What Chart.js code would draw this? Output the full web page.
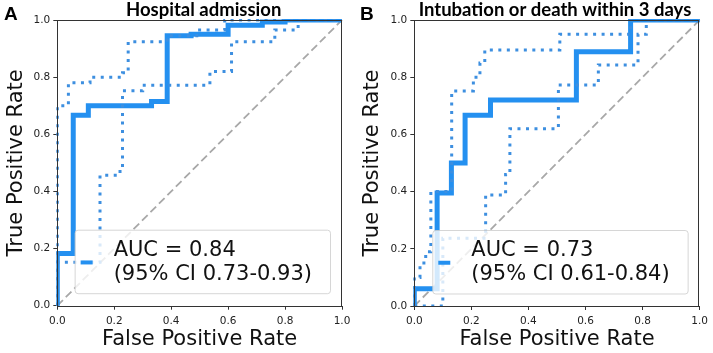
<!DOCTYPE html>
<html>
<head>
<meta charset="utf-8">
<script src="https://cdn.jsdelivr.net/npm/chart.js@4.4.1/dist/chart.umd.min.js"></script>
<style>
  html, body { margin: 0; padding: 0; background: #fff; }
  #wrap { position: relative; width: 713px; height: 353px; }
  canvas { position: absolute; top: 0; }
  #cA { left: 0; }
  #cB { left: 356px; }
</style>
</head>
<body>
<div id="wrap">
  <canvas id="cA" width="356" height="353"></canvas>
  <canvas id="cB" width="357" height="353"></canvas>
</div>
<script>
// Axis ticks (both panels)
const tickValues = [0, 0.2, 0.4, 0.6, 0.8, 1.0];

// Panel A - Hospital admission: ROC and 95% CI bounds
const admFpr   = [0, 0, 0.056, 0.056, 0.109, 0.109, 0.331, 0.331, 0.386, 0.386, 0.47, 0.47, 0.60, 0.60, 0.72, 0.72, 0.80, 0.80, 1];
const admTpr   = [0, 0.183, 0.183, 0.667, 0.667, 0.70, 0.70, 0.715, 0.715, 0.945, 0.945, 0.95, 0.95, 0.982, 0.982, 0.993, 0.993, 1, 1];
const admHiFpr = [0, 0, 0.039, 0.039, 0.115, 0.115, 0.229, 0.229, 0.249, 0.249, 0.386, 0.386, 0.49, 0.49, 0.588, 0.588, 1];
const admHiTpr = [0, 0.70, 0.70, 0.78, 0.78, 0.80, 0.80, 0.815, 0.815, 0.924, 0.924, 0.945, 0.945, 0.965, 0.965, 1, 1];
const admLoFpr = [0, 0, 0.15, 0.15, 0.213, 0.213, 0.229, 0.229, 0.30, 0.30, 0.536, 0.536, 0.612, 0.612, 0.764, 0.764, 0.846, 0.846, 1];
const admLoTpr = [0, 0.152, 0.152, 0.457, 0.457, 0.47, 0.47, 0.752, 0.752, 0.772, 0.772, 0.82, 0.82, 0.924, 0.924, 0.965, 0.965, 1, 1];
const admLegend = ["AUC = 0.84", "(95% CI 0.73-0.93)"];

// Panel B - Intubation or death within 3 days
const intFpr   = [0, 0, 0.08, 0.08, 0.13, 0.13, 0.178, 0.178, 0.267, 0.267, 0.568, 0.568, 0.758, 0.758, 1];
const intTpr   = [0, 0.06, 0.06, 0.395, 0.395, 0.50, 0.50, 0.667, 0.667, 0.72, 0.72, 0.889, 0.889, 1, 1];
const intHiFpr = [0, 0, 0.02, 0.02, 0.04, 0.04, 0.058, 0.058, 0.131, 0.131, 0.207, 0.207, 0.23, 0.23, 0.247, 0.247, 0.51, 0.51, 0.758, 0.758, 1];
const intHiTpr = [0, 0.10, 0.10, 0.15, 0.15, 0.19, 0.19, 0.40, 0.40, 0.752, 0.752, 0.80, 0.80, 0.85, 0.85, 0.895, 0.895, 0.95, 0.95, 1, 1];
const intLoFpr = [0, 0.10, 0.10, 0.25, 0.25, 0.32, 0.32, 0.335, 0.335, 0.505, 0.505, 0.645, 0.645, 0.784, 0.784, 0.813, 0.813, 1];
const intLoTpr = [0, 0, 0.237, 0.237, 0.388, 0.388, 0.46, 0.46, 0.62, 0.62, 0.773, 0.773, 0.843, 0.843, 0.95, 0.95, 1, 1];
const intLegend = ["AUC = 0.73", "(95% CI 0.61-0.84)"];

// chance line
const chanceX = [0, 1];
const chanceY = [0, 1];

const SOLID = "#2490f0";
const DOTTED = "#3d8fe0";
const FONT = "'DejaVu Sans', sans-serif";

function pts(xs, ys) {
    return xs.map((x, i) => ({ x: x, y: ys[i] }));
}

// legend box, frame and panel titles drawn on top of the plot
const panelDecor = {
    id: "panelDecor",
    afterDatasetsDraw(chart, args, opts) {
        const { ctx, chartArea: a } = chart;
        ctx.save();
        ctx.font = "21px " + FONT;
        const textW = Math.max(...opts.legend.map(t => ctx.measureText(t).width));
        const boxW = textW + 57;
        const boxH = 63.5;
        const left = a.right - 12 - boxW;
        const top = a.bottom - 12.5 - boxH;
        ctx.beginPath();
        ctx.roundRect(left + 0.5, top + 0.5, boxW, boxH, 3);
        ctx.fillStyle = "rgba(255,255,255,0.8)";
        ctx.fill();
        ctx.strokeStyle = "rgba(204,204,204,0.8)";
        ctx.lineWidth = 1;
        ctx.stroke();
        // handle
        ctx.beginPath();
        ctx.moveTo(left + 6, top + boxH / 2 + 1);
        ctx.lineTo(left + 18, top + boxH / 2 + 1);
        ctx.strokeStyle = SOLID;
        ctx.lineWidth = 4;
        ctx.stroke();
        ctx.fillStyle = "#111";
        ctx.textBaseline = "alphabetic";
        ctx.textAlign = "left";
        ctx.fillText(opts.legend[0], left + 39, top + 26.4);
        ctx.fillText(opts.legend[1], left + 39, top + 50);
        // frame
        ctx.strokeStyle = "#333";
        ctx.lineWidth = 1;
        ctx.strokeRect(Math.round(a.left) + 0.5, Math.round(a.top) + 0.5,
                       Math.round(a.width) - 1, Math.round(a.height));
        ctx.restore();
    },
    afterDraw(chart, args, opts) {
        const { ctx, chartArea: a } = chart;
        ctx.save();
        ctx.fillStyle = "#000";
        ctx.textBaseline = "alphabetic";
        ctx.textAlign = "center";
        ctx.font = "bold 18.5px Lato, sans-serif";
        ctx.fillText(opts.title, (a.left + a.right) / 2 + opts.titleShift, 15.5);
        ctx.textAlign = "left";
        ctx.font = "bold 19px 'Liberation Sans', sans-serif";
        ctx.fillText(opts.letter, 4, 20);
        ctx.restore();
    }
};

function makeChart(id, cfg) {
    const canvas = document.getElementById(id);
    return new Chart(canvas, {
        type: "line",
        data: {
            datasets: [
                { data: pts(cfg.hiFpr, cfg.hiTpr), borderColor: DOTTED, borderWidth: 3, borderDash: [3, 5.5] },
                { data: pts(cfg.loFpr, cfg.loTpr), borderColor: DOTTED, borderWidth: 3, borderDash: [3, 5.5] },
                { data: pts(cfg.fpr, cfg.tpr), borderColor: SOLID, borderWidth: 5, borderJoinStyle: "miter" },
                { data: pts(chanceX, chanceY), borderColor: "#a8a8a8", borderWidth: 1.8, borderDash: [8, 4] },
            ].map(d => Object.assign(d, { pointRadius: 0, tension: 0, fill: false, clip: 1 })),
        },
        options: {
            responsive: false,
            animation: false,
            events: [],
            layout: { padding: { top: 20, right: cfg.padRight, left: 0, bottom: 0 } },
            plugins: {
                legend: { display: false },
                tooltip: { enabled: false },
                panelDecor: { letter: cfg.letter, title: cfg.title, titleShift: cfg.titleShift, legend: cfg.legend },
            },
            scales: {
                x: {
                    type: "linear",
                    min: 0, max: 1,
                    afterBuildTicks: (s) => { s.ticks = tickValues.map(v => ({ value: v })); },
                    afterFit: (s) => { s.height = cfg.xHeight; },
                    ticks: {
                        color: "#222",
                        padding: 5,
                        maxRotation: 0,
                        font: { family: FONT, size: 10.5 },
                        callback: (v) => Number(v).toFixed(1),
                    },
                    grid: { drawOnChartArea: false, tickLength: 4, color: "#333", lineWidth: 1 },
                    border: { display: false },
                    title: {
                        display: true,
                        text: "False Positive Rate",
                        color: "#111",
                        font: { family: FONT, size: 21 },
                        padding: { top: 0, bottom: 1 },
                    },
                },
                y: {
                    type: "linear",
                    min: 0, max: 1,
                    afterBuildTicks: (s) => { s.ticks = tickValues.map(v => ({ value: v })); },
                    afterFit: (s) => { s.width = cfg.yWidth; },
                    ticks: {
                        color: "#222",
                        padding: 3,
                        font: { family: FONT, size: 10.5 },
                        callback: (v) => Number(v).toFixed(1),
                    },
                    grid: { drawOnChartArea: false, tickLength: 4, color: "#333", lineWidth: 1 },
                    border: { display: false },
                    title: {
                        display: true,
                        text: "True Positive Rate",
                        color: "#111",
                        font: { family: FONT, size: 21 },
                        padding: { top: 4, bottom: 0 },
                    },
                },
            },
        },
        plugins: [panelDecor],
    });
}

makeChart("cA", {
    letter: "A", title: "Hospital admission", titleShift: 4, legend: admLegend,
    fpr: admFpr, tpr: admTpr, hiFpr: admHiFpr, hiTpr: admHiTpr, loFpr: admLoFpr, loTpr: admLoTpr,
    padRight: 14, yWidth: 57.3, xHeight: 47.3,
});
makeChart("cB", {
    letter: "B", title: "Intubation or death within 3 days", titleShift: -2, legend: intLegend,
    fpr: intFpr, tpr: intTpr, hiFpr: intHiFpr, hiTpr: intHiTpr, loFpr: intLoFpr, loTpr: intLoTpr,
    padRight: 13, yWidth: 58.3, xHeight: 47,
});
</script>
</body>
</html>
